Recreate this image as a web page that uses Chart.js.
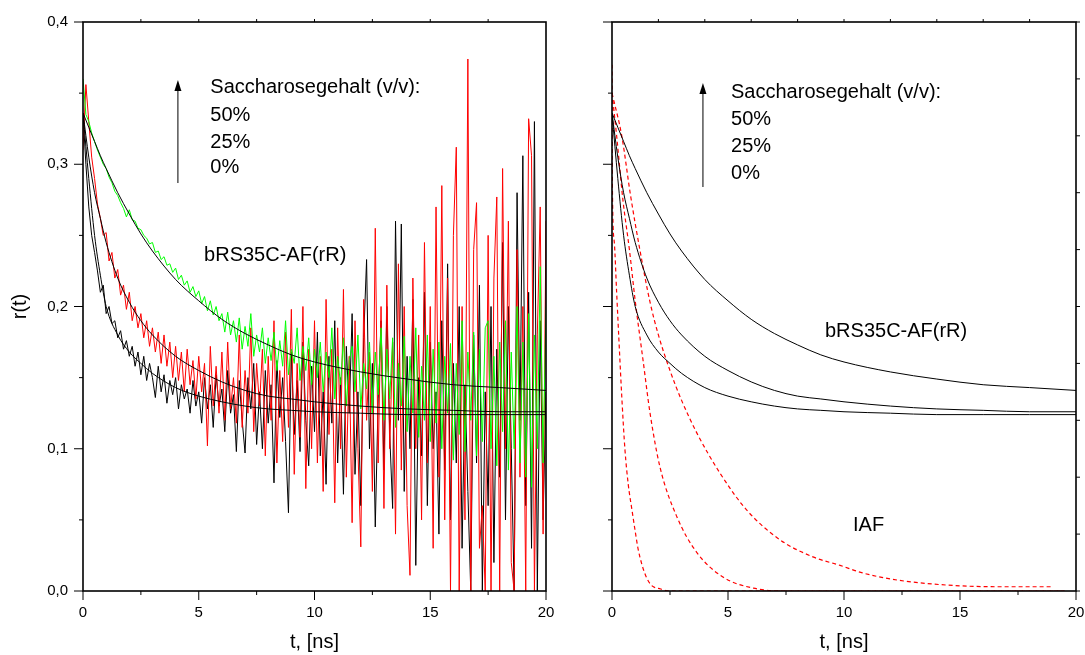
<!DOCTYPE html>
<html>
<head>
<meta charset="utf-8">
<script src="https://cdn.jsdelivr.net/npm/chart.js@4"></script>
<style>
  html, body { margin: 0; padding: 0; background: #fff; }
  #wrap { position: relative; width: 1085px; height: 655px; }
  canvas { position: absolute; top: 0; }
  #left { left: 0; }
  #right { left: 565px; }
</style>
</head>
<body>
<div id="wrap">
  <canvas id="left" width="560" height="655"></canvas>
  <canvas id="right" width="520" height="655"></canvas>
</div>
<script>
// measured anisotropy r(t), sampled every 0.125 ns from 0 to 20 ns
const dt = 0.125;

// 0% saccharose (black)
const r0 = [
  0.335,0.30,0.27,0.25,0.238,0.225,0.21,0.215,
  0.195,0.2,0.188,0.19,0.178,0.183,0.17,0.176,
  0.165,0.172,0.158,0.168,0.152,0.165,0.148,0.16,
  0.15,0.136,0.158,0.14,0.152,0.132,0.148,0.138,
  0.15,0.128,0.145,0.135,0.142,0.125,0.148,0.13,
  0.14,0.118,0.15,0.128,0.145,0.115,0.152,0.13,
  0.142,0.112,0.155,0.125,0.138,0.098,0.148,0.12,
  0.097,0.15,0.128,0.16,0.103,0.14,0.1,0.155,
  0.118,0.145,0.076,0.162,0.122,0.15,0.105,0.055,
  0.168,0.11,0.148,0.098,0.175,0.12,0.088,0.158,
  0.112,0.182,0.095,0.14,0.075,0.165,0.118,0.19,
  0.09,0.15,0.068,0.172,0.125,0.195,0.082,0.14,
  0.06,0.178,0.233,0.1,0.16,0.045,0.135,0.19,
  0.085,0.2,0.11,0.058,0.26,0.12,0.258,0.07,
  0.165,0.1,0.205,0.018,0.15,0.095,0.21,0.06,
  0.175,0.1,0.14,0.04,0.19,0.085,0.23,0.05,
  0.16,0.09,0.2,0.03,0.145,0.07,0.0,0.18,
  0.09,0.215,0.0,0.14,0.06,0.2,0.02,0.17,
  0.08,0.245,0.05,0.2,0.1,0.0,0.28,0.12,
  0.306,0.06,0.21,0.03,0.33,0.0,0.19,0.05,
  0.14
];

// 25% saccharose (red)
const r25 = [
  0.31,0.356,0.33,0.305,0.29,0.272,0.262,0.25,
  0.252,0.232,0.238,0.22,0.226,0.208,0.215,0.198,
  0.21,0.19,0.2,0.185,0.195,0.178,0.19,0.172,
  0.185,0.168,0.182,0.16,0.18,0.158,0.175,0.15,
  0.172,0.148,0.168,0.14,0.17,0.145,0.162,0.135,
  0.165,0.14,0.16,0.102,0.172,0.13,0.158,0.125,
  0.168,0.12,0.175,0.128,0.15,0.118,0.18,0.115,
  0.155,0.125,0.185,0.112,0.16,0.13,0.17,0.095,
  0.165,0.12,0.19,0.09,0.155,0.105,0.182,0.115,
  0.198,0.082,0.16,0.108,0.2,0.072,0.17,0.1,
  0.19,0.09,0.165,0.07,0.205,0.11,0.17,0.062,
  0.185,0.1,0.212,0.08,0.165,0.048,0.19,0.1,
  0.031,0.205,0.12,0.168,0.07,0.255,0.09,0.2,
  0.058,0.215,0.1,0.175,0.04,0.23,0.085,0.2,
  0.06,0.011,0.22,0.1,0.18,0.05,0.245,0.09,
  0.2,0.03,0.27,0.08,0.285,0.05,0.22,0.0,
  0.25,0.312,0.0,0.2,0.05,0.374,0.0,0.24,
  0.273,0.03,0.06,0.0,0.25,0.0,0.22,0.277,
  0.0,0.297,0.1,0.26,0.02,0.0,0.24,0.08,
  0.2,0.0,0.332,0.306,0.0,0.18,0.27,0.04,
  0.26
];

// 50% saccharose (green)
const r50 = [
  0.36,0.335,0.33,0.322,0.316,0.31,0.305,0.3,
  0.297,0.291,0.287,0.281,0.278,0.273,0.269,0.263,
  0.268,0.261,0.26,0.255,0.254,0.25,0.248,0.244,
  0.245,0.238,0.239,0.233,0.235,0.229,0.23,0.224,
  0.227,0.219,0.222,0.215,0.218,0.21,0.214,0.207,
  0.211,0.202,0.207,0.197,0.204,0.194,0.2,0.19,
  0.195,0.182,0.196,0.18,0.19,0.175,0.192,0.17,
  0.186,0.172,0.195,0.165,0.18,0.168,0.185,0.16,
  0.178,0.162,0.182,0.155,0.176,0.158,0.19,0.152,
  0.17,0.16,0.185,0.148,0.172,0.155,0.178,0.145,
  0.17,0.15,0.175,0.14,0.168,0.15,0.185,0.135,
  0.165,0.145,0.178,0.13,0.162,0.172,0.14,0.18,
  0.128,0.16,0.142,0.175,0.125,0.168,0.138,0.185,
  0.12,0.17,0.135,0.178,0.115,0.16,0.13,0.179,
  0.112,0.165,0.125,0.185,0.108,0.158,0.12,0.18,
  0.105,0.17,0.118,0.175,0.1,0.165,0.125,0.174,
  0.092,0.16,0.11,0.19,0.098,0.168,0.12,0.182,
  0.095,0.17,0.105,0.185,0.19,0.1,0.165,0.088,
  0.175,0.112,0.19,0.085,0.168,0.1,0.2,0.09,
  0.175,0.08,0.195,0.073,0.18,0.1,0.228,0.09,
  0.2
];

// fitted curves bRS35C-AF(rR)
const fitT   = [0,0.25,0.5,0.75,1,1.5,2,2.5,3,4,5,6,7,8,9,10,12,14,16,18,20];
const fit50  = [0.336,0.326,0.316,0.306,0.297,0.280,0.265,0.251,0.239,0.219,0.204,0.191,0.181,0.173,0.166,0.161,0.154,0.149,0.145,0.143,0.141];
const fit25  = [0.336,0.305,0.280,0.262,0.245,0.220,0.203,0.190,0.180,0.165,0.155,0.147,0.141,0.137,0.135,0.133,0.130,0.128,0.127,0.126,0.126];
const fit0   = [0.336,0.290,0.250,0.222,0.200,0.180,0.168,0.160,0.153,0.143,0.137,0.133,0.130,0.128,0.127,0.126,0.125,0.124,0.124,0.124,0.124];

// IAF curves (red dashed)
const iafAT = [0,0.02,0.1,0.2,0.3,0.43,0.56,0.7,0.86,1.0,1.12,1.3,1.5,1.7,2.1,2.5,19.5];
const iafA  = [0.37,0.28,0.245,0.21,0.176,0.134,0.099,0.075,0.057,0.042,0.03,0.018,0.009,0.004,0.0014,0.0,0.0];
const iafBT = [0,0.2,0.47,0.75,1.0,1.34,1.64,2.07,2.8,3.66,4.78,6.1,7.5,19.5];
const iafB  = [0.35,0.32,0.275,0.24,0.204,0.162,0.125,0.087,0.052,0.027,0.0098,0.002,0.0,0.0];
const iafCT = [0,0.42,0.8,1.2,1.64,2.0,2.5,3.0,3.66,4.65,5.8,7.24,8.66,9.83,10.8,12.3,14.4,16.6,19.0];
const iafC  = [0.35,0.32,0.278,0.24,0.203,0.18,0.155,0.134,0.111,0.083,0.057,0.036,0.024,0.018,0.0127,0.0077,0.0042,0.003,0.003];

const yTicks = [0, 0.1, 0.2, 0.3, 0.4];
const xTicks = [0, 5, 10, 15, 20];
const legendLines = ['Saccharosegehalt (v/v):', '50%', '25%', '0%'];

const FONT = "'Liberation Sans', Arial, sans-serif";

const pts = (ts, vs) => vs.map((v, i) => ({ x: ts[i], y: v }));
const sampled = vs => vs.map((v, i) => ({ x: i * dt, y: v }));

function noisy(vs, color) {
  return { data: sampled(vs), borderColor: color, borderWidth: 1, pointRadius: 0, tension: 0 };
}
function smooth(d, color, dash) {
  return { data: d, borderColor: color, borderWidth: dash ? 1.2 : 1, pointRadius: 0,
           cubicInterpolationMode: 'monotone', borderDash: dash || [] };
}

// frame, tick marks and text, all placed through the chart's own scales
const decor = {
  id: 'decor',
  afterDraw(chart, args, o) {
    const { ctx, chartArea: a, scales } = chart;
    const xs = scales.x, ys = scales.y;
    ctx.save();
    ctx.strokeStyle = '#000';
    ctx.lineWidth = 1;
    const tick = (x1, y1, x2, y2) => { ctx.beginPath(); ctx.moveTo(x1, y1); ctx.lineTo(x2, y2); ctx.stroke(); };
    // left ticks
    for (let i = 0; i <= 8; i++) {
      const y = ys.getPixelForValue(i * 0.05);
      tick(a.left, y, a.left - (i % 2 ? 4 : 9), y);
    }
    // bottom ticks
    for (let i = 0; i <= 8; i++) {
      const x = xs.getPixelForValue(i * 2.5);
      tick(x, a.bottom, x, a.bottom + (i % 2 ? 4 : 9));
    }
    // top ticks
    for (let v = o.topStep; v < 20 - 1e-6; v += o.topStep) {
      const x = xs.getPixelForValue(v);
      tick(x, a.top, x, a.top - 3);
    }
    // right ticks
    if (o.rightStep) {
      for (let v = 0; v <= 0.4 + 1e-6; v += o.rightStep) {
        const y = ys.getPixelForValue(v);
        tick(a.right, y, a.right + 4, y);
      }
    }
    ctx.lineWidth = 1.6;
    ctx.strokeRect(a.left, a.top, a.right - a.left, a.bottom - a.top);

    // arrow
    const ax = xs.getPixelForValue(o.arrow[0]);
    const ay1 = ys.getPixelForValue(o.arrow[1]);
    const ay2 = ys.getPixelForValue(o.arrow[2]);
    ctx.lineWidth = 1;
    tick(ax, ay1, ax, ay2 + 8);
    ctx.fillStyle = '#000';
    ctx.beginPath();
    ctx.moveTo(ax, ay2); ctx.lineTo(ax - 3.5, ay2 + 11); ctx.lineTo(ax + 3.5, ay2 + 11);
    ctx.closePath(); ctx.fill();

    // texts
    ctx.font = '20px ' + FONT;
    ctx.textBaseline = 'middle';
    ctx.textAlign = 'left';
    const lx = xs.getPixelForValue(o.legend[0]);
    legendLines.forEach((s, i) => ctx.fillText(s, lx, ys.getPixelForValue(o.legend[1 + i])));
    o.labels.forEach(l => ctx.fillText(l[0], xs.getPixelForValue(l[1]), ys.getPixelForValue(l[2])));
    ctx.restore();
  }
};

function baseOptions(yWidth, showY, decorOpts) {
  return {
    responsive: false,
    animation: false,
    layout: { autoPadding: false, padding: { top: 22, right: showY ? 14 : 0, left: 0, bottom: 0 } },
    plugins: { legend: { display: false }, tooltip: { enabled: false }, decor: decorOpts },
    scales: {
      x: {
        type: 'linear', min: 0, max: 20,
        afterFit: s => { s.height = 64; s.paddingLeft = 0; s.paddingRight = 0; },
        grid: { display: false, drawTicks: false }, border: { display: false },
        ticks: { stepSize: 5, padding: 13, color: '#000', font: { family: FONT, size: 15 },
                 callback: v => xTicks.includes(v) ? String(v) : '' },
        title: { display: true, text: 't, [ns]', color: '#000', font: { family: FONT, size: 20 },
                 padding: { top: 0, bottom: 1 } }
      },
      y: {
        min: 0, max: 0.4,
        afterFit: s => { s.width = yWidth; s.paddingTop = 0; s.paddingBottom = 0; },
        grid: { display: false, drawTicks: false }, border: { display: false },
        ticks: { display: showY, stepSize: 0.1, padding: 15, color: '#000', font: { family: FONT, size: 15 },
                 callback: v => {
                   const r = Math.round(v * 10) / 10;
                   return yTicks.includes(r) ? r.toFixed(1).replace('.', ',') : '';
                 } },
        title: { display: showY, text: 'r(t)', color: '#000', font: { family: FONT, size: 20 },
                 padding: { top: 8, bottom: 0 } }
      }
    }
  };
}

const leftOpts = baseOptions(83, true, {
  topStep: 2.5, rightStep: 0,
  arrow: [4.1, 0.2868, 0.3592],
  legend: [5.5, 0.3543, 0.3346, 0.3156, 0.2974],
  labels: [['bRS35C-AF(rR)', 5.23, 0.2362]]
});

new Chart(document.getElementById('left'), {
  type: 'line',
  data: {
    datasets: [
      smooth(pts(fitT, fit50), '#000'),
      smooth(pts(fitT, fit25), '#000'),
      smooth(pts(fitT, fit0), '#000'),
      noisy(r50, '#00ff00'),
      noisy(r25, '#ff0000'),
      noisy(r0, '#000000')
    ]
  },
  options: leftOpts,
  plugins: [decor]
});

const rightOpts = baseOptions(47, false, {
  topStep: 2, rightStep: 0.04,
  arrow: [3.92, 0.284, 0.3571],
  legend: [5.13, 0.3508, 0.3318, 0.3128, 0.2938],
  labels: [['bRS35C-AF(rR)', 9.18, 0.1821], ['IAF', 10.39, 0.0464]]
});
rightOpts.scales.y2 = {
  position: 'right', min: 0, max: 0.4,
  afterFit: s => { s.width = 9; s.paddingTop = 0; s.paddingBottom = 0; },
  grid: { display: false, drawTicks: false }, border: { display: false },
  ticks: { display: false }
};

new Chart(document.getElementById('right'), {
  type: 'line',
  data: {
    datasets: [
      smooth(pts(fitT, fit50), '#000'),
      smooth(pts(fitT, fit25), '#000'),
      smooth(pts(fitT, fit0), '#000'),
      smooth(pts(iafAT, iafA), '#ff0000', [4, 3]),
      smooth(pts(iafBT, iafB), '#ff0000', [4, 3]),
      smooth(pts(iafCT, iafC), '#ff0000', [4, 3])
    ]
  },
  options: rightOpts,
  plugins: [decor]
});
</script>
</body>
</html>
